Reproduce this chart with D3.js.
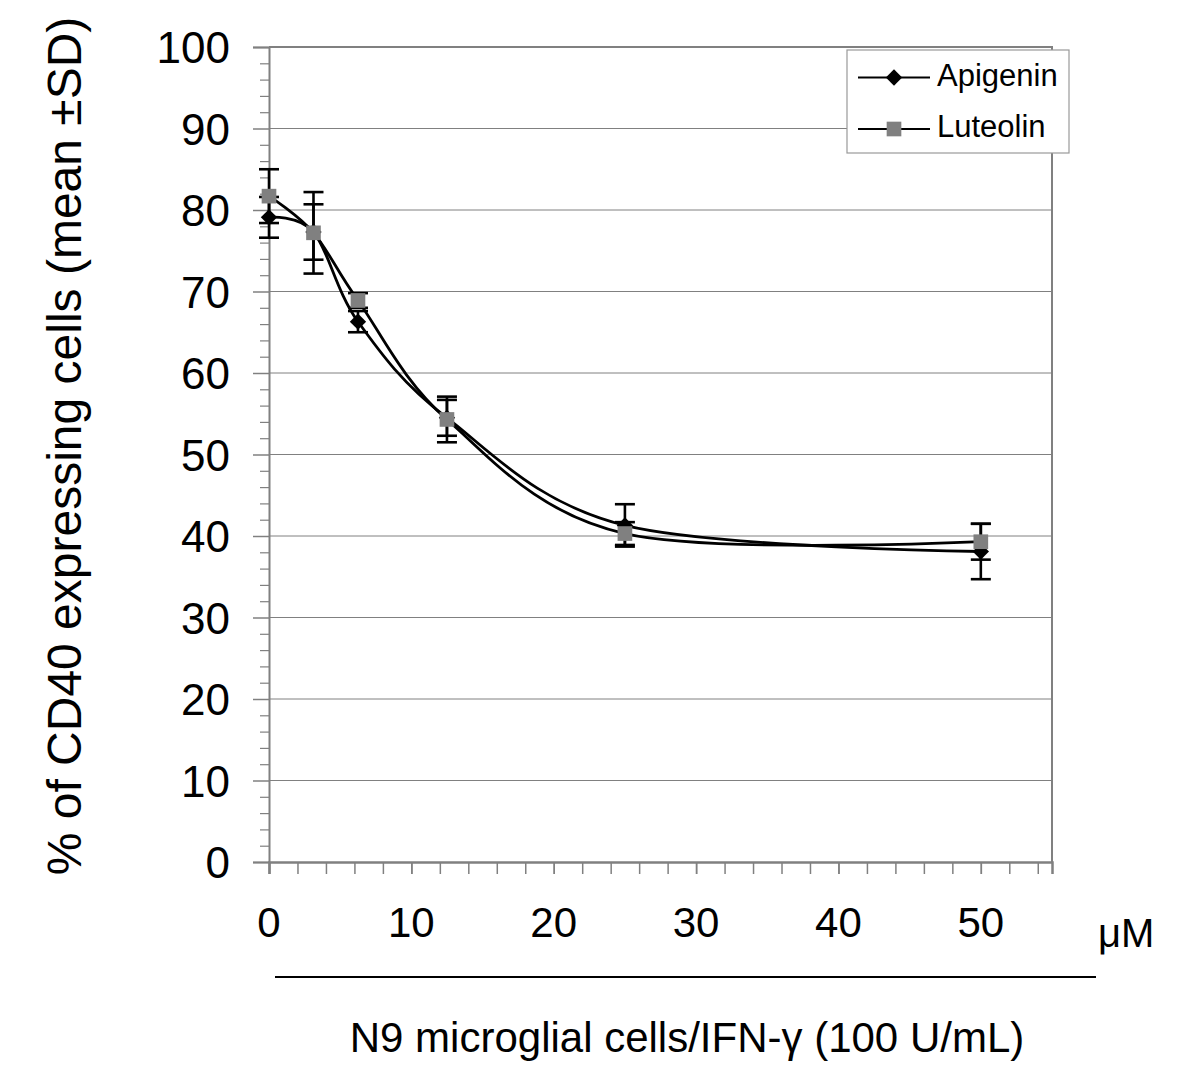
<!DOCTYPE html>
<html><head><meta charset="utf-8">
<script src="https://cdn.jsdelivr.net/npm/d3@7"></script>
<style>body{margin:0;background:#fff}svg{display:block;font-family:"Liberation Sans",Arial,sans-serif}</style>
</head><body>
<script>
const concentrations = [0, 3.125, 6.25, 12.5, 25, 50];
const apigeninMean = [79.1, 77.3, 66.3, 54.5, 41.3, 38.1];
const apigeninSD   = [2.5, 3.4, 1.3, 2.2, 2.6, 3.4];
const luteolinMean = [81.7, 77.2, 68.9, 54.3, 40.3, 39.3];
const luteolinSD   = [3.3, 5.0, 0.9, 2.8, 1.4, 2.2];
const yTicks = [0,10,20,30,40,50,60,70,80,90,100];
const xTicks = [0,10,20,30,40,50];
const seriesNames = ["Apigenin", "Luteolin"];

const W = 1200, H = 1073;
const svg = d3.select("body").append("svg").attr("width", W).attr("height", H);
const x = d3.scaleLinear().domain([0, 55]).range([269, 1052]);
const y = d3.scaleLinear().domain([0, 100]).range([862, 47]);
const grid = "#808080";

// gridlines
svg.append("g").selectAll("line").data(yTicks.filter(d => d > 0 && d < 100)).join("line")
  .attr("x1", x(0)).attr("x2", x(55)).attr("y1", d => y(d)).attr("y2", d => y(d))
  .attr("stroke", grid).attr("stroke-width", 1);
// frame top & right
svg.append("path").attr("d", `M${x(0)},${y(100)}H${x(55)}V${y(0)}`).attr("fill","none").attr("stroke", grid).attr("stroke-width", 2);

// y axis
const yAxis = svg.append("g").attr("transform", `translate(${x(0)},0)`)
  .call(d3.axisLeft(y).tickValues(yTicks).tickSize(16).tickPadding(23));
yAxis.select(".domain").attr("stroke", grid).attr("stroke-width", 2);
yAxis.selectAll(".tick line").attr("stroke", grid).attr("stroke-width", 1.5);
yAxis.selectAll("text").attr("font-size", 44).attr("fill", "#000").attr("dy", "0.36em")
  .attr("font-family", "Liberation Sans, Arial, sans-serif");
svg.append("g").attr("transform", `translate(${x(0)},0)`)
  .call(d3.axisLeft(y).tickValues(d3.range(0, 101, 2).filter(d => d % 10)).tickSize(9).tickFormat(""))
  .call(g => { g.select(".domain").remove(); g.selectAll("line").attr("stroke", grid).attr("stroke-width", 1.2); });

// x axis
const xAxis = svg.append("g").attr("transform", `translate(0,${y(0)})`)
  .call(d3.axisBottom(x).tickValues(d3.range(0, 55, 2).concat(xTicks)).tickSize(12).tickFormat(""));
xAxis.select(".domain").attr("stroke", grid).attr("stroke-width", 2.5);
xAxis.selectAll(".tick line").attr("stroke", grid).attr("stroke-width", 1.5);
svg.append("g").selectAll("text").data(xTicks).join("text")
  .attr("x", d => x(d)).attr("y", 937).attr("text-anchor", "middle")
  .attr("font-size", 42).text(d => d);
svg.append("text").attr("x", 1098).attr("y", 947).attr("font-size", 40).text("μM");
svg.append("line").attr("x1", 275).attr("x2", 1096).attr("y1", 977).attr("y2", 977).attr("stroke", "#000").attr("stroke-width", 2);
svg.append("text").attr("x", 687).attr("y", 1052).attr("text-anchor", "middle").attr("font-size", 42)
  .text("N9 microglial cells/IFN-γ (100 U/mL)");
svg.append("text").attr("transform", `translate(81,446) rotate(-90)`).attr("text-anchor", "middle")
  .attr("font-size", 48).text("% of CD40 expressing cells (mean ±SD)");

const series = [
  {name: seriesNames[0], mean: apigeninMean, sd: apigeninSD, sym: d3.symbolDiamond2, fill: "#000", size: 170},
  {name: seriesNames[1], mean: luteolinMean, sd: luteolinSD, sym: d3.symbolSquare, fill: "#808080", size: 215}
];
const line = d3.line().x(d => x(d[0])).y(d => y(d[1])).curve(d3.curveCatmullRom.alpha(0));
series.forEach(s => {
  const pts = concentrations.map((c, i) => [c, s.mean[i]]);
  svg.append("path").attr("d", line(pts)).attr("fill", "none").attr("stroke", "#000").attr("stroke-width", 2.8);
});
series.forEach(s => {
  const g = svg.append("g").attr("stroke", "#000").attr("stroke-width", 2.6);
  concentrations.forEach((c, i) => {
    const cx = x(c), t = y(s.mean[i] + s.sd[i]), b = y(s.mean[i] - s.sd[i]);
    g.append("line").attr("x1", cx).attr("x2", cx).attr("y1", t).attr("y2", b);
    g.append("line").attr("x1", cx - 10).attr("x2", cx + 10).attr("y1", t).attr("y2", t);
    g.append("line").attr("x1", cx - 10).attr("x2", cx + 10).attr("y1", b).attr("y2", b);
  });
});
series.forEach(s => {
  svg.append("g").selectAll("path").data(concentrations).join("path")
    .attr("transform", (c, i) => `translate(${x(c)},${y(s.mean[i])})`)
    .attr("d", d3.symbol().type(s.sym).size(s.size)).attr("fill", s.fill);
});

// legend
const lg = svg.append("g");
lg.append("rect").attr("x", 847).attr("y", 50).attr("width", 222).attr("height", 103)
  .attr("fill", "#fff").attr("stroke", "#999").attr("stroke-width", 1.2);
series.forEach((s, i) => {
  const ly = 77.5 + i * 51.5;
  lg.append("line").attr("x1", 858).attr("x2", 930).attr("y1", ly).attr("y2", ly).attr("stroke", "#000").attr("stroke-width", 2.2);
  lg.append("path").attr("transform", `translate(894,${ly})`).attr("d", d3.symbol().type(s.sym).size(s.size)).attr("fill", s.fill);
  lg.append("text").attr("x", 937).attr("y", ly + 8).attr("font-size", 31).text(s.name);
});
</script>
</body></html>
